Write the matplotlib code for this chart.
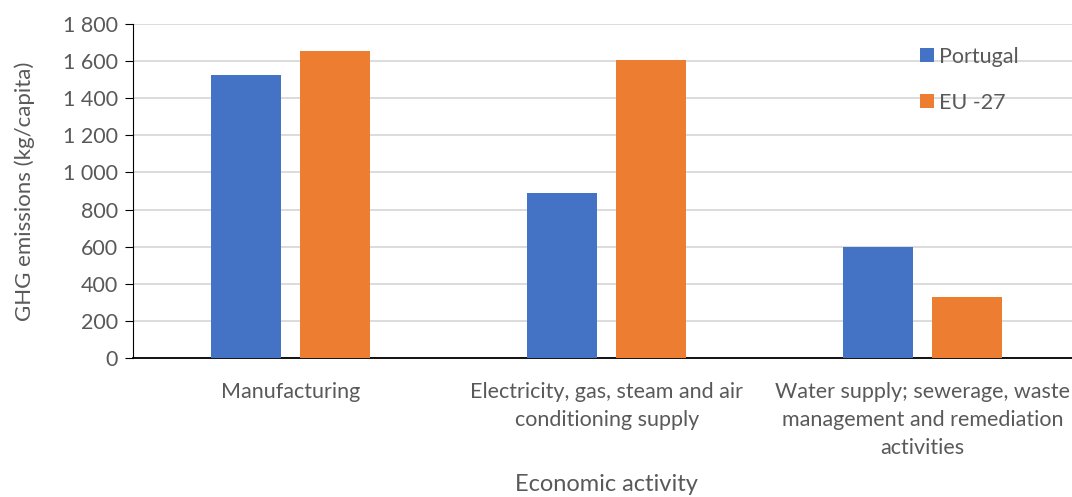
import matplotlib.pyplot as plt
from matplotlib.ticker import FuncFormatter, MultipleLocator
import numpy as np

categories = ["Manufacturing",
              "Electricity, gas, steam and air\nconditioning supply",
              "Water supply; sewerage, waste\nmanagement and remediation\nactivities"]
portugal = [1525, 890, 598]
eu27 = [1655, 1606, 330]

plt.rcParams['font.family'] = ['Lato', 'DejaVu Sans']
txt = "#595959"

fig = plt.figure(figsize=(10.72, 4.97), dpi=100)
ax = fig.add_axes([0.124, 0.2797, 0.884, 0.672])

x = np.arange(len(categories))
w = 0.222
ax.bar(x - 0.141, portugal, w, color="#4472c4", label="Portugal", zorder=3)
ax.bar(x + 0.141, eu27, w, color="#ed7d31", label="EU -27", zorder=3)

ax.set_xlim(-0.5, 2.5)
ax.set_ylim(0, 1800)
ax.yaxis.set_major_locator(MultipleLocator(200))
ax.yaxis.set_major_formatter(FuncFormatter(lambda v, p: f"{int(v):,}".replace(",", " ")))
ax.grid(axis="y", color="#d9d9d9", linewidth=1.3, zorder=0)
ax.set_axisbelow(True)

for s in ["top", "right"]:
    ax.spines[s].set_visible(False)
ax.spines["left"].set_color("black")
ax.spines["bottom"].set_color("black")
ax.spines["bottom"].set_linewidth(1.3)

ax.set_xticks(x)
ax.set_xticklabels(categories, fontsize=15.5, color=txt, linespacing=1.5)
ax.tick_params(axis="x", length=0, pad=17)
ax.tick_params(axis="y", labelsize=15.5, labelcolor=txt, length=6, direction="out", pad=5)

ax.set_ylabel("GHG emissions (kg/capita)", fontsize=16, color=txt, labelpad=20)
ax.set_xlabel("Economic activity", fontsize=17, color=txt, labelpad=12)

ax.legend(loc="upper left", bbox_to_anchor=(0.81, 0.99), frameon=False,
          fontsize=15.5, labelcolor=txt, handlelength=0.65, handleheight=0.65,
          handletextpad=0.25, labelspacing=1.2)

fig.savefig("out.png", dpi=100)
